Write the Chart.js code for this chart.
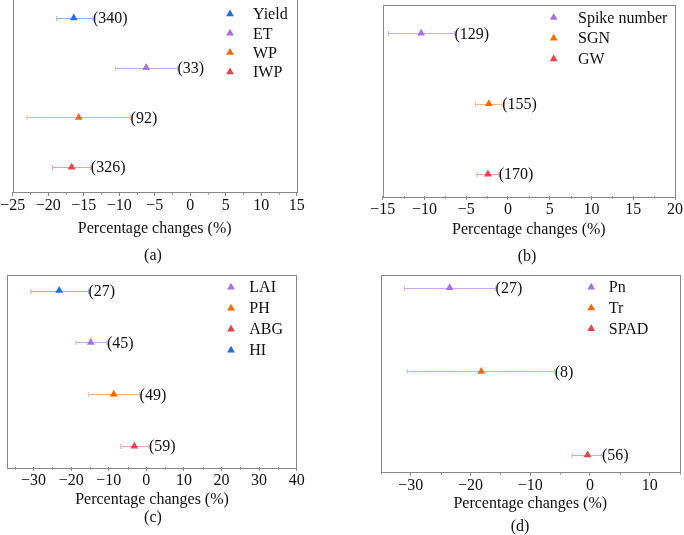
<!DOCTYPE html>
<html>
<head>
<meta charset="utf-8">
<script src="https://cdn.jsdelivr.net/npm/chart.js@4.4.1/dist/chart.umd.min.js"></script>
<style>
    body { margin: 0; background: #fff; width: 684px; height: 535px; overflow: hidden; position: relative; }
    .panel { position: absolute; }
</style>
</head>
<body>
<div class="panel" style="left:0;top:-20px;"><canvas id="chartA" width="342" height="290"></canvas></div>
<div class="panel" style="left:342px;top:0;"><canvas id="chartB" width="342" height="270"></canvas></div>
<div class="panel" style="left:0;top:270px;"><canvas id="chartC" width="342" height="265"></canvas></div>
<div class="panel" style="left:342px;top:270px;"><canvas id="chartD" width="342" height="265"></canvas></div>
<script>
// (a) water use
var labelsA = ['Yield', 'ET', 'WP', 'IWP'];
var meanA = [-16.4, -6.2, -15.7, -16.7];
var lowA = [-18.8, -10.5, -23.0, -19.4];
var highA = [-13.7, -1.8, -8.4, -14.0];
var countA = [340, 33, 92, 326];
var rowA = [4, 3, 2, 1];

// (b) yield components
var labelsB = ['Spike number', 'SGN', 'GW'];
var meanB = [-10.4, -2.3, -2.4];
var lowB = [-14.3, -3.9, -3.7];
var highB = [-6.4, -0.7, -1.1];
var countB = [129, 155, 170];
var rowB = [3, 2, 1];

// (c) growth
var labelsC = ['LAI', 'PH', 'ABG', 'HI'];
var meanC = [-14.8, -8.7, -3.2, -23.2];
var lowC = [-18.7, -15.3, -6.8, -30.7];
var highC = [-10.5, -1.8, 0.7, -15.4];
var countC = [45, 49, 59, 27];
var rowC = [3, 2, 1, 4];

// (d) physiology
var labelsD = ['Pn', 'Tr', 'SPAD'];
var meanD = [-23.5, -18.2, -0.4];
var lowD = [-31.1, -30.6, -3.0];
var highD = [-15.8, -5.9, 2.0];
var countD = [27, 8, 56];
var rowD = [3, 2, 1];

var FONT = 'Liberation Serif';
var BLUE = ['#1f6fe0', '#8fb6ef'],
    PURPLE = ['#a86fe0', '#cdaaee'],
    ORANGE = ['#ff6a00', '#ffb283'],
    RED = ['#f23d4a', '#f5a0a6'];

function fmt(v) {
    return v < 0 ? '\u2212' + Math.abs(v) : '' + v;
}

function triangle(c, x, y, r) {
    c.beginPath();
    c.moveTo(x, y - r);
    c.lineTo(x + r * 0.866, y + r / 2);
    c.lineTo(x - r * 0.866, y + r / 2);
    c.closePath();
    c.fill();
}

function forestPlugin(p) {
    return {
        id: 'forest',
        beforeDatasetsDraw: function (chart) {
            var c = chart.ctx, xs = chart.scales.x, ys = chart.scales.y;
            c.save();
            c.lineWidth = 1;
            for (var i = 0; i < p.labels.length; i++) {
                var y = Math.round(ys.getPixelForValue(p.row[i])) + 0.5;
                var x1 = xs.getPixelForValue(p.low[i]),
                    x2 = xs.getPixelForValue(p.high[i]);
                c.strokeStyle = p.colors[i][1];
                c.beginPath();
                c.moveTo(x1, y); c.lineTo(x2, y);
                c.moveTo(x1, y - 2.5); c.lineTo(x1, y + 2.5);
                c.moveTo(x2, y - 2.5); c.lineTo(x2, y + 2.5);
                c.stroke();
            }
            c.restore();
        },
        afterDraw: function (chart) {
            var c = chart.ctx, a = chart.chartArea, xs = chart.scales.x, ys = chart.scales.y;
            c.save();
            // frame
            c.strokeStyle = '#888';
            c.lineWidth = 1;
            c.strokeRect(Math.round(a.left) + 0.5, Math.round(a.top) + 0.5,
                Math.round(a.right - a.left), Math.round(a.bottom - a.top));
            // minor ticks
            var half = p.step / 2;
            c.beginPath();
            for (var v = Math.ceil(p.xmin / half) * half; v <= p.xmax; v += half) {
                if (Math.abs(v / p.step - Math.round(v / p.step)) < 1e-6) continue;
                var px = Math.round(xs.getPixelForValue(v)) + 0.5;
                c.moveTo(px, Math.round(a.bottom)); c.lineTo(px, Math.round(a.bottom) + 2.5);
            }
            c.stroke();
            // counts
            c.fillStyle = '#111';
            c.font = '16px ' + FONT;
            c.textBaseline = 'middle';
            c.textAlign = 'left';
            for (var i = 0; i < p.labels.length; i++) {
                c.fillText('(' + p.count[i] + ')', xs.getPixelForValue(p.high[i]),
                    ys.getPixelForValue(p.row[i]) + 1);
            }
            // legend
            for (var j = 0; j < p.labels.length; j++) {
                var ly = a.top + p.legend.dy + j * p.legend.gap;
                c.fillStyle = p.colors[j][0];
                triangle(c, a.right + p.legend.tri, ly, 4.5);
                c.fillStyle = '#111';
                c.fillText(p.labels[j], a.right + p.legend.text, ly + 1);
            }
            // panel label
            c.textAlign = 'center';
            c.fillText(p.tag, p.tagX, a.bottom + p.tagDy);
            c.restore();
        }
    };
}

function drawChart(id, p) {
    var ctx = document.getElementById(id).getContext('2d');
    var datasets = p.labels.map(function (name, i) {
        return {
            label: name,
            data: [{x: p.mean[i], y: p.row[i]}],
            pointStyle: 'triangle',
            pointRadius: 4.5,
            pointBorderWidth: 0,
            pointBackgroundColor: p.colors[i][0],
            pointBorderColor: p.colors[i][0],
            backgroundColor: p.colors[i][0],
            borderColor: p.colors[i][0]
        };
    });

    return new Chart(ctx, {
        type: 'scatter',
        data: {datasets: datasets},
        options: {
            responsive: false,
            animation: false,
            devicePixelRatio: 1,
            layout: {padding: p.pad},
            plugins: {legend: {display: false}, tooltip: {enabled: false}},
            scales: {
                x: {
                    min: p.xmin,
                    max: p.xmax,
                    afterFit: function (s) { s.height = p.axisH; },
                    afterBuildTicks: function (s) {
                        var t = [];
                        for (var v = Math.ceil(p.xmin / p.step) * p.step; v <= p.xmax; v += p.step) {
                            t.push({value: v});
                        }
                        s.ticks = t;
                    },
                    border: {display: false},
                    grid: {drawOnChartArea: false, tickLength: 4, color: '#888', tickColor: '#888'},
                    ticks: {
                        stepSize: p.step, includeBounds: false, padding: 0, autoSkip: false, maxRotation: 0,
                        color: '#111', font: {family: FONT, size: 16}, callback: fmt
                    },
                    title: {
                        display: true, text: 'Percentage changes (%)', color: '#111',
                        font: {family: FONT, size: 16}, padding: {top: 0, bottom: p.titlePad}
                    }
                },
                y: {display: false, min: p.ymin, max: p.ymax}
            }
        },
        plugins: [forestPlugin(p)]
    });
}

drawChart('chartA', {
    labels: labelsA, mean: meanA, low: lowA, high: highA, count: countA, row: rowA,
    colors: [BLUE, PURPLE, ORANGE, RED],
    xmin: -25, xmax: 15, step: 5, ymin: 0.5, ymax: 4.5,
    pad: {left: 12.7, right: 45.3, top: 13, bottom: 0}, axisH: 78, titlePad: 32,
    legend: {tri: -66.7, text: -43.7, dy: 21, gap: 19.3},
    tag: '(a)', tagX: 153, tagDy: 63.7
});

drawChart('chartB', {
    labels: labelsB, mean: meanB, low: lowB, high: highB, count: countB, row: rowB,
    colors: [PURPLE, ORANGE, RED],
    xmin: -15, xmax: 20, step: 5, ymin: 0.69, ymax: 3.41,
    pad: {left: 40.7, right: 9, top: 3, bottom: 0}, axisH: 74, titlePad: 30.4,
    legend: {tri: -121.3, text: -97, dy: 13, gap: 20.7},
    tag: '(b)', tagX: 185, tagDy: 60.7
});

drawChart('chartC', {
    labels: labelsC, mean: meanC, low: lowC, high: highC, count: countC, row: rowC,
    colors: [PURPLE, ORANGE, RED, BLUE],
    xmin: -37, xmax: 40, step: 10, ymin: 0.6, ymax: 4.31,
    pad: {left: 7.3, right: 45.3, top: 4, bottom: 0}, axisH: 68, titlePad: 25.4,
    legend: {tri: -65.7, text: -47.4, dy: 12.7, gap: 21},
    tag: '(c)', tagX: 153, tagDy: 51
});

drawChart('chartD', {
    labels: labelsD, mean: meanD, low: lowD, high: highD, count: countD, row: rowD,
    colors: [PURPLE, ORANGE, RED],
    xmin: -35, xmax: 15, step: 10, ymin: 0.8, ymax: 3.16,
    pad: {left: 39, right: 2, top: 4, bottom: 0}, axisH: 63.3, titlePad: 22.1,
    legend: {tri: -88.3, text: -70.7, dy: 12.7, gap: 20.8},
    tag: '(d)', tagX: 178, tagDy: 55
});
</script>
</body>
</html>
